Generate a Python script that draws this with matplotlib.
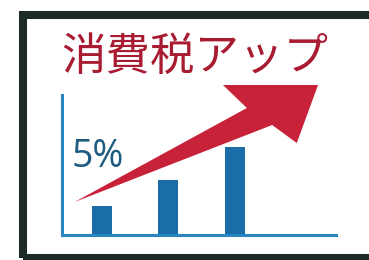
import matplotlib.pyplot as plt
from matplotlib.patches import Rectangle, Polygon

# -----------------------------------------------
# -             DATA                            -
# -----------------------------------------------
title = '消費税アップ'
label = '5%'
bar_pos = [1, 2, 3]
bar_vals = [29, 55, 88]

# arrow outline (data units of the chart axes)
arrow_x = [0.59, 3.18, 2.82, 4.25, 3.93, 3.56]
arrow_y = [33, 127, 150, 150, 92, 110]

# -----------------------------------------------
# -             PLOT                            -
# -----------------------------------------------
plt.rcParams['font.family'] = ['Noto Sans CJK JP', 'DejaVu Sans']

W, H = 369, 260
fig = plt.figure(figsize=(W / 100, H / 100), dpi=100)
fig.patch.set_facecolor('white')

# black frame, cut off at right and bottom
fig.patches.append(Rectangle((23 / W, 1 - 257.5 / H), 360 / W, 243 / H,
                             transform=fig.transFigure, fill=False,
                             edgecolor='#1c2b26', linewidth=5.8))

fig.text(195 / W, 1 - 57 / H, title, ha='center', va='center',
         fontsize=32, color='#a81b30')

ax = fig.add_axes([62 / W, 1 - 235 / H, 274 / W, 140 / H])
ax.set_xlim(0.4, 4.52)
ax.set_ylim(0, 140)
ax.patch.set_alpha(0)
for s in ['top', 'right']:
    ax.spines[s].set_visible(False)
for s in ['left', 'bottom']:
    ax.spines[s].set_color('#2a86c0')
    ax.spines[s].set_linewidth(2.2)
ax.set_xticks([])
ax.set_yticks([])

ax.bar(bar_pos, bar_vals, width=0.3, color='#1a6ea8', zorder=2)

ax.add_patch(Polygon(list(zip(arrow_x, arrow_y)), closed=True,
                     facecolor='#c8213a', edgecolor='none',
                     clip_on=False, zorder=3))

ax.text(0.55, 68, label, ha='left', va='baseline', fontsize=27,
        color='#1d5b80', family=['Open Sans'], fontweight='medium')

plt.savefig('out.png', dpi=100)
